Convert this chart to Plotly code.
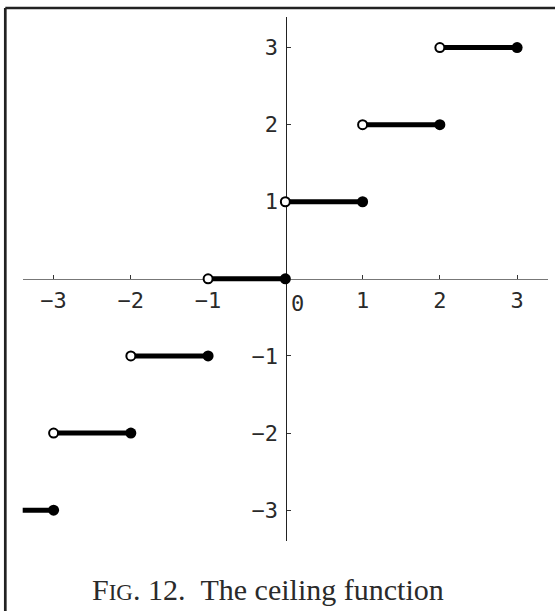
import plotly.graph_objects as go

# ---- data: ceiling function pieces (interval (left, right] -> value) ----
interval_left = [-4, -3, -2, -1, 0, 1, 2]
interval_right = [-3, -2, -1, 0, 1, 2, 3]
ceil_value = [-3, -2, -1, 0, 1, 2, 3]

x_tick_vals = [-3, -2, -1, 1, 2, 3]
y_tick_vals = [-3, -2, -1, 1, 2, 3]
plot_range = [-3.4, 3.4]
caption_title = "The ceiling function"

W, H = 555, 611

def tick_text(v):
    return ("\u2212" + str(-v)) if v < 0 else str(v)

seg_x, seg_y = [], []
for l, r, v in zip(interval_left, interval_right, ceil_value):
    seg_x += [l, r, None]
    seg_y += [v, v, None]

fig = go.Figure()
fig.add_trace(go.Scatter(x=seg_x, y=seg_y, mode="lines",
                         line=dict(color="black", width=5), hoverinfo="skip"))
fig.add_trace(go.Scatter(x=interval_left, y=ceil_value, mode="markers",
                         marker=dict(size=9, color="white",
                                     line=dict(color="black", width=2)),
                         hoverinfo="skip"))
fig.add_trace(go.Scatter(x=interval_right, y=ceil_value, mode="markers",
                         marker=dict(size=11, color="black",
                                     line=dict(color="black", width=0)),
                         hoverinfo="skip"))

tick_font = dict(family="DejaVu Sans Mono", size=22, color="#2a2a2a")

x_dom = [22.7 / W, 548 / W]
y_dom = [1 - 541 / H, 1 - 16.7 / H]
x_axis_pos = 1 - 278.8 / H
y_axis_pos = 285.5 / W

fig.update_layout(
    width=W, height=H,
    margin=dict(l=0, r=0, t=0, b=0),
    paper_bgcolor="white", plot_bgcolor="white",
    showlegend=False,
    xaxis=dict(range=plot_range, domain=x_dom, anchor="free", position=x_axis_pos,
               showgrid=False, zeroline=False, showline=True, linecolor="#777",
               linewidth=1.3, ticks="inside", ticklen=4, tickwidth=1, tickcolor="#333",
               tickmode="array", tickvals=x_tick_vals,
               ticktext=[tick_text(v) for v in x_tick_vals],
               tickfont=tick_font, ticklabelstandoff=2, layer="below traces"),
    yaxis=dict(range=plot_range, domain=y_dom, anchor="free", position=y_axis_pos,
               showgrid=False, zeroline=False, showline=True, linecolor="#222",
               linewidth=1, ticks="inside", ticklen=4, tickwidth=1, tickcolor="#333",
               tickmode="array", tickvals=y_tick_vals,
               ticktext=[tick_text(v) for v in y_tick_vals],
               tickfont=tick_font, ticklabelstandoff=3, layer="below traces"),
    shapes=[
        dict(type="line", xref="paper", yref="paper", x0=5.3 / W, x1=1.0,
             y0=1 - 8 / H, y1=1 - 8 / H, line=dict(color="#222", width=2.7)),
        dict(type="line", xref="paper", yref="paper", x0=5.3 / W, x1=5.3 / W,
             y0=0, y1=1 - 8 / H, line=dict(color="#222", width=2.7)),
    ],
    annotations=[
        dict(x=297 / W, y=1 - 303 / H, xref="paper", yref="paper", text="0",
             showarrow=False, font=tick_font, xanchor="center", yanchor="middle"),
        dict(x=268 / W, y=1 - 589 / H, xref="paper", yref="paper",
             text="F<span style='font-size:23px'>IG</span>. 12.\u00a0\u00a0" + caption_title,
             showarrow=False, xanchor="center", yanchor="middle",
             font=dict(family="Liberation Serif", size=30, color="#2a2a2a")),
    ],
)

fig.write_html("out.html", config={"displayModeBar": False},
               post_script="document.body.style.margin='0';document.body.style.overflow='hidden';")
